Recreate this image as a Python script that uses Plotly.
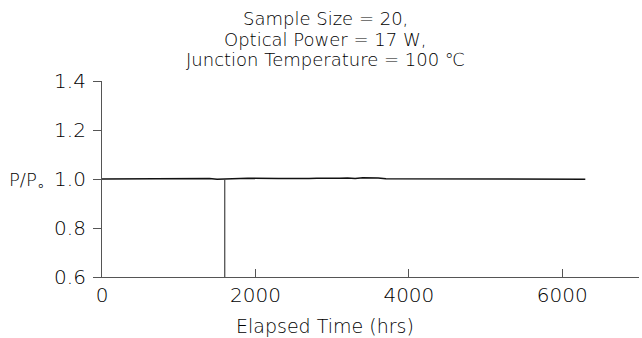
import plotly.graph_objects as go

# Data
hours = [h * 100 for h in range(64)]  # 0 .. 6300 hrs
ratio = [
    1.000, 1.000, 1.001, 1.001, 1.001, 1.001, 1.001, 1.002, 1.000, 1.003,
    1.001, 1.003, 1.002, 1.003, 1.002, 0.999, 0.999, 1.002, 1.002, 1.003,
    1.002, 1.003, 1.002, 1.002, 1.002, 1.001, 1.001, 1.002, 1.003, 1.002,
    1.003, 1.003, 1.004, 1.002, 1.005, 1.006, 1.004, 1.001, 1.001, 1.001,
    1.001, 1.000, 1.001, 1.000, 1.001, 1.000, 1.000, 1.000, 1.001, 1.000,
    1.000, 1.000, 1.000, 1.001, 1.001, 1.001, 1.000, 1.000, 1.000, 1.000,
    1.000, 0.999, 0.999, 0.999,
]
marker_x = [1600, 1600]
marker_y = [0.6, 1.0]

x_ticks = [0, 2000, 4000, 6000]
y_ticks = [0.6, 0.8, 1.0, 1.2, 1.4]
y_ticklabels = ["0.6", "0.8", "1.0", "1.2", "1.4"]

title_lines = ["Sample Size = 20,", "Optical Power = 17 W,", "Junction Temperature = 100 ℃"]
x_title = "Elapsed Time (hrs)"
y_title = "P/P。"

FONT = "DejaVu Sans"
WT = 200
TXT = "#000000"
AX = "#555555"

fig = go.Figure()
fig.add_trace(go.Scatter(x=hours, y=ratio, mode="lines",
                         line=dict(color="#111111", width=1.6), showlegend=False))
fig.add_trace(go.Scatter(x=marker_x, y=marker_y, mode="lines",
                         line=dict(color="#444444", width=1.2), showlegend=False))

L, R, T, B = 102, 3, 81, 61
W, H = 642, 338
pw = W - L - R
ph = H - T - B

def px_to_paper_x(px):
    return (px - L) / pw

def py_to_paper_y(py):
    return (H - B - py) / ph

tick_font = dict(size=20, family=FONT, color=TXT, weight=WT)
text_font = dict(size=18, family=FONT, color=TXT, weight=WT)

annotations = []
for i, line in enumerate(title_lines):
    annotations.append(dict(text=line, xref="paper", yref="paper",
                            x=px_to_paper_x(325), y=py_to_paper_y(18 + 21 * i),
                            xanchor="center", yanchor="middle", showarrow=False,
                            font=text_font))
annotations.append(dict(text=x_title, xref="paper", yref="paper",
                        x=px_to_paper_x(325), y=py_to_paper_y(326),
                        xanchor="center", yanchor="middle", showarrow=False,
                        font=dict(size=19, family=FONT, color=TXT, weight=WT)))
annotations.append(dict(text=y_title, xref="paper", yref="paper",
                        x=px_to_paper_x(57), y=py_to_paper_y(179),
                        xanchor="right", yanchor="middle", showarrow=False,
                        font=text_font))

fig.update_layout(
    width=W, height=H,
    margin=dict(l=L, r=R, t=T, b=B, pad=0),
    paper_bgcolor="white", plot_bgcolor="white",
    font=dict(family=FONT, color=TXT, size=18, weight=WT),
    xaxis=dict(range=[0, 7000], tickvals=x_ticks, ticks="inside", ticklen=8,
               tickcolor=AX, showline=True, linecolor=AX, linewidth=1.2,
               showgrid=False, zeroline=False, tickfont=tick_font),
    yaxis=dict(range=[0.6, 1.4], tickvals=y_ticks, ticktext=y_ticklabels,
               ticks="outside", ticklen=8, tickcolor=AX, showline=True,
               linecolor=AX, linewidth=1.2, showgrid=False, zeroline=False,
               tickfont=tick_font, ticklabelstandoff=3),
    annotations=annotations,
)

fig.write_html("out.html")
